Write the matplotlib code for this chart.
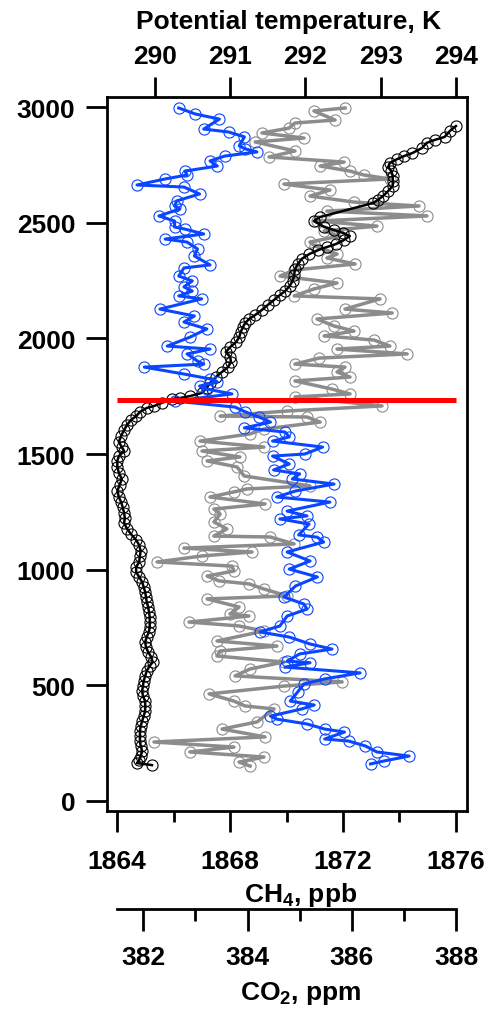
"""
Vertical profile: potential temperature, CH4 and CO2 versus altitude.
"""
import matplotlib
matplotlib.use('Agg')
import matplotlib.pyplot as plt

# --- data -----------------------------------------------------------------
# potential temperature, K (black)
theta_alt = [2919, 2898, 2872, 2859, 2846, 2824, 2802, 2789, 2776, 2759,
             2742, 2724, 2703, 2681, 2660, 2638, 2616, 2599, 2586, 2525,
             2508, 2482, 2469, 2456, 2443, 2426, 2409, 2396, 2383, 2365,
             2344, 2322, 2300, 2274, 2249, 2227, 2205, 2188, 2166, 2145,
             2123, 2101, 2084, 2067, 2050, 2028, 2006, 1985, 1963, 1941,
             1920, 1898, 1876, 1855, 1833, 1807, 1786, 1764, 1751, 1742,
             1738, 1721, 1708, 1699, 1682, 1664, 1647, 1626, 1604, 1578,
             1552, 1530, 1513, 1491, 1470, 1444, 1418, 1392, 1366, 1340,
             1314, 1292, 1271, 1245, 1223, 1201, 1176, 1154, 1128, 1106,
             1080, 1059, 1033, 1011, 989, 968, 946, 925, 903, 881,
             860, 838, 816, 795, 773, 752, 730, 708, 687, 665,
             643, 622, 600, 583, 561, 540, 518, 496, 475, 453,
             431, 410, 388, 366, 345, 323, 302, 280, 258, 237,
             215, 193, 176, 163, 154]
theta_k = [294.00, 293.92, 293.85, 293.72, 293.61, 293.55, 293.42, 293.31, 293.22, 293.12,
           293.10, 293.14, 293.16, 293.16, 293.16, 293.10, 293.03, 292.96, 292.90, 292.19,
           292.11, 292.25, 292.38, 292.50, 292.59, 292.51, 292.41, 292.29, 292.17, 292.05,
           291.95, 291.90, 291.86, 291.85, 291.83, 291.79, 291.73, 291.66, 291.58, 291.50,
           291.42, 291.33, 291.25, 291.20, 291.17, 291.14, 291.12, 291.08, 291.00, 290.94,
           291.00, 291.01, 290.97, 290.89, 290.81, 290.73, 290.69, 290.62, 290.47, 290.33,
           290.23, 290.09, 289.99, 289.89, 289.80, 289.75, 289.68, 289.63, 289.59, 289.55,
           289.52, 289.56, 289.59, 289.52, 289.50, 289.50, 289.52, 289.56, 289.53, 289.50,
           289.52, 289.55, 289.57, 289.59, 289.60, 289.59, 289.63, 289.68, 289.75, 289.79,
           289.81, 289.80, 289.79, 289.75, 289.75, 289.79, 289.83, 289.85, 289.87, 289.88,
           289.89, 289.91, 289.92, 289.93, 289.93, 289.93, 289.92, 289.89, 289.87, 289.88,
           289.91, 289.95, 289.97, 289.93, 289.89, 289.87, 289.85, 289.84, 289.83, 289.84,
           289.87, 289.87, 289.87, 289.85, 289.83, 289.81, 289.80, 289.80, 289.80, 289.81,
           289.83, 289.81, 289.79, 289.76, 289.96]

# CH4, ppb (grey)
ch4_alt = [2997, 2984, 2945, 2932, 2910, 2889, 2867, 2850, 2811, 2785,
           2763, 2746, 2724, 2707, 2690, 2668, 2642, 2616, 2590, 2573,
           2551, 2530, 2508, 2486, 2465, 2443, 2417, 2400, 2365, 2348,
           2322, 2296, 2270, 2240, 2214, 2184, 2171, 2127, 2110, 2084,
           2054, 2032, 2011, 1993, 1967, 1954, 1933, 1915, 1889, 1876,
           1855, 1833, 1816, 1781, 1760, 1747, 1708, 1686, 1664, 1660,
           1638, 1608, 1587, 1556, 1530, 1513, 1487, 1470, 1444, 1405,
           1362, 1349, 1336, 1314, 1284, 1262, 1240, 1206, 1176, 1145,
           1141, 1111, 1093, 1076, 1059, 1033, 1015, 994, 972, 951,
           938, 916, 886, 873, 838, 808, 799, 773, 756, 734,
           691, 669, 648, 626, 600, 570, 540, 514, 496, 462,
           431, 410, 397, 341, 310, 276, 254, 232, 211, 189,
           167, 150]
ch4_ppb = [1872.07, 1870.97, 1871.72, 1870.30, 1870.09, 1869.13, 1870.62, 1868.89, 1870.30, 1869.38,
           1872.04, 1871.19, 1872.25, 1872.74, 1873.66, 1869.91, 1871.54, 1870.83, 1872.39, 1874.69,
           1871.43, 1874.97, 1871.08, 1873.20, 1871.33, 1871.89, 1870.83, 1871.01, 1871.79, 1871.43,
           1872.43, 1870.27, 1869.77, 1871.79, 1870.97, 1870.27, 1873.31, 1872.07, 1873.74, 1871.08,
           1871.68, 1872.39, 1871.33, 1873.10, 1873.66, 1871.79, 1874.27, 1871.15, 1870.30, 1872.07,
           1871.79, 1872.25, 1870.30, 1871.61, 1872.25, 1870.30, 1873.38, 1870.02, 1867.65, 1870.73,
           1871.19, 1869.20, 1868.71, 1866.94, 1869.20, 1867.01, 1868.35, 1867.19, 1868.25, 1868.50,
           1870.83, 1868.60, 1868.14, 1867.29, 1869.24, 1867.43, 1867.65, 1867.43, 1867.89, 1867.43,
           1869.42, 1870.27, 1866.37, 1868.78, 1867.01, 1865.42, 1868.07, 1868.14, 1867.19, 1867.61,
           1868.67, 1869.20, 1870.02, 1867.19, 1868.32, 1868.00, 1868.67, 1866.55, 1868.32, 1869.20,
           1867.54, 1869.66, 1867.65, 1867.54, 1869.91, 1868.71, 1868.18, 1871.97, 1869.91, 1867.26,
           1868.14, 1868.53, 1869.56, 1868.96, 1867.72, 1869.24, 1865.31, 1868.14, 1866.58, 1869.20,
           1868.32, 1868.71]

# CO2, ppm (blue)
co2_alt = [2997, 2971, 2949, 2906, 2893, 2872, 2833, 2820, 2807, 2789,
           2768, 2746, 2724, 2707, 2690, 2664, 2655, 2625, 2595, 2573,
           2560, 2530, 2508, 2482, 2473, 2452, 2430, 2417, 2387, 2357,
           2318, 2305, 2270, 2249, 2223, 2205, 2184, 2171, 2127, 2097,
           2071, 2041, 2006, 1967, 1954, 1933, 1902, 1889, 1876, 1846,
           1825, 1812, 1794, 1781, 1760, 1729, 1703, 1682, 1660, 1638,
           1613, 1595, 1574, 1556, 1530, 1500, 1491, 1457, 1431, 1414,
           1392, 1370, 1340, 1314, 1292, 1253, 1232, 1219, 1197, 1150,
           1140, 1119, 1076, 1037, 1002, 968, 929, 881, 851, 829,
           799, 756, 730, 708, 678, 656, 635, 604, 597, 578,
           553, 527, 505, 470, 431, 414, 397, 366, 353, 332,
           310, 297, 267, 258, 237, 211, 193, 172, 159]
co2_ppm = [382.68, 383.00, 383.46, 383.16, 383.64, 383.94, 383.84, 383.96, 384.18, 383.56,
           383.28, 383.42, 382.80, 382.84, 382.42, 381.88, 382.78, 383.08, 382.64, 382.60,
           382.70, 382.30, 382.60, 382.60, 382.80, 383.16, 382.42, 382.84, 383.04, 382.98,
           383.28, 382.78, 382.68, 382.94, 382.78, 382.94, 382.68, 383.12, 382.32, 382.98,
           382.78, 383.22, 382.90, 382.46, 383.28, 382.84, 383.04, 383.16, 382.02, 382.78,
           383.28, 383.42, 383.08, 383.22, 383.70, 382.60, 383.76, 383.96, 384.22, 384.44,
           383.94, 384.72, 384.80, 384.48, 385.44, 385.10, 384.48, 384.80, 384.50, 385.00,
           384.86, 385.66, 384.92, 384.56, 385.58, 384.76, 385.14, 384.62, 385.18, 384.98,
           385.34, 385.46, 384.76, 385.20, 384.80, 385.34, 384.92, 384.70, 385.08, 385.14,
           384.76, 384.62, 384.24, 384.80, 385.20, 385.62, 385.00, 384.76, 385.20, 384.72,
           386.16, 385.48, 385.08, 384.96, 384.82, 385.28, 385.04, 384.44, 384.56, 385.14,
           385.48, 385.86, 385.48, 385.94, 386.26, 386.48, 387.10, 386.62, 386.36]

# boundary layer top, m (red line)
bl_height = 1735

alt_ticks = [0, 500, 1000, 1500, 2000, 2500, 3000]
theta_ticks = [290, 291, 292, 293, 294]
ch4_ticks = [1864, 1868, 1872, 1876]
ch4_minor = [1866, 1870, 1874]
co2_ticks = [382, 384, 386, 388]
co2_minor = [383, 385, 387]
co2_span = (381.5, 388)

plt.rcParams['font.family'] = ['Liberation Sans', 'DejaVu Sans']
plt.rcParams['font.weight'] = 'bold'
plt.rcParams['mathtext.default'] = 'regular'
plt.rcParams['font.size'] = 19

W, H = 495, 1012
fig = plt.figure(figsize=(W / 100, H / 100), dpi=100)
ax = fig.add_axes([106.5 / W, 1 - 812.2 / H, 360 / W, 713.9 / H])

marker_kw = dict(marker='o', ms=8, mfc='none', mew=0.8)

# CH4 on the main axes
ax.plot(ch4_ppb, ch4_alt, color='#8c8c8c', lw=2.5, **marker_kw)

# potential temperature on a top axis
ax_th = ax.twiny()
ax_th.plot(theta_k, theta_alt, color='black', lw=1.8, **marker_kw)

# CO2 on a second, offset bottom axis
ax_co2 = ax.twiny()
ax_co2.plot(co2_ppm, co2_alt, color='#0a46ff', lw=2.2, **marker_kw)
ax_co2.plot([ch4_ticks[0], ch4_ticks[-1]], [bl_height, bl_height],
            color='#ff0000', lw=3.6, solid_capstyle='butt',
            transform=ax.transData)

ax.set_xlim(1863.628, 1876.372)
ax.set_ylim(-45.4, 3043.3)
ax_th.set_xlim(289.356, 294.140)
ax_co2.set_xlim(381.294, 388.201)

for s in ax.spines.values():
    s.set_linewidth(2)
for s in ax_th.spines.values():
    s.set_visible(False)
for name, s in ax_co2.spines.items():
    s.set_visible(name == 'bottom')

ax.set_yticks(alt_ticks)
ax.set_xticks(ch4_ticks)
ax.set_xticks(ch4_minor, minor=True)
ax.tick_params(axis='y', direction='out', length=15, width=2, pad=7.5, right=False)
ax.tick_params(axis='x', which='major', direction='out', length=14.9, width=2,
               pad=12, top=False)
ax.tick_params(axis='x', which='minor', direction='out', length=8.2, width=2, top=False)

ax_th.set_xticks(theta_ticks)
ax_th.tick_params(axis='x', direction='out', length=14.4, width=2, pad=6.5)

ax_co2.xaxis.set_ticks_position('bottom')
ax_co2.xaxis.set_label_position('bottom')
ax_co2.spines['bottom'].set_position(('outward', 70.4))
ax_co2.spines['bottom'].set_linewidth(2)
ax_co2.spines['bottom'].set_bounds(*co2_span)
ax_co2.set_xticks(co2_ticks)
ax_co2.set_xticks(co2_minor, minor=True)
ax_co2.tick_params(axis='x', which='major', direction='out', length=15.8, width=2, pad=10)
ax_co2.tick_params(axis='x', which='minor', direction='out', length=8.6, width=2)

# axis titles
fig.text(288.3 / W, 1 - 28.5 / H, 'Potential temperature, K', ha='center', va='baseline')
fig.text(301 / W, 1 - 901.7 / H, 'CH$_4$, ppb', ha='center', va='baseline')
fig.text(300.5 / W, 1 - 1000 / H, 'CO$_2$, ppm', ha='center', va='baseline')

fig.savefig('out.png', dpi=100)
plt.close(fig)
